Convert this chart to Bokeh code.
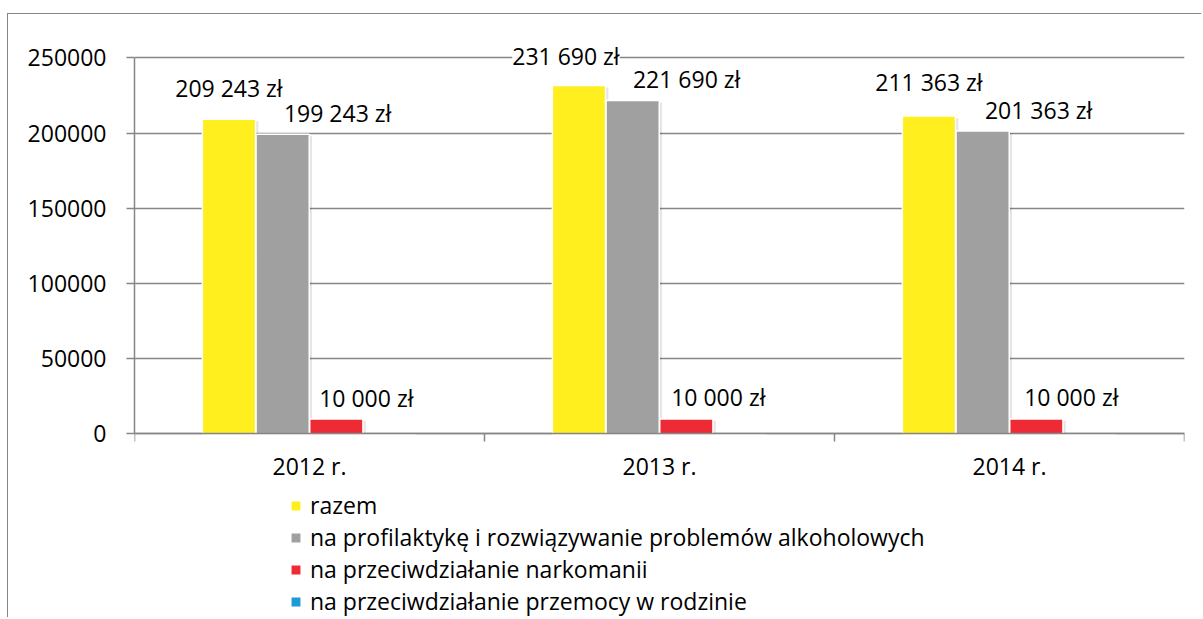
from bokeh.plotting import figure
from bokeh.models import (ColumnDataSource, LabelSet, Legend, LegendItem, FixedTicker,
                          BasicTickFormatter, Range1d)
from bokeh.core.properties import value
from bokeh.embed import file_html
from bokeh.resources import INLINE

# ---------------- data ----------------
categories = ["2012 r.", "2013 r.", "2014 r."]
series_names = [
    "razem",
    "na profilaktykę i rozwiązywanie problemów alkoholowych",
    "na przeciwdziałanie narkomanii",
    "na przeciwdziałanie przemocy w rodzinie",
]
razem = [209243, 231690, 211363]
alkohol = [199243, 221690, 201363]
narkomania = [10000, 10000, 10000]
przemoc = [0, 0, 0]
y_ticks = [0, 50000, 100000, 150000, 200000, 250000]

# ---------------- style ----------------
colors = ["#FFEF1F", "#A0A0A0", "#EE2B34", "#1E9AD6"]
FONT = "Open Sans"
GRID = "#868686"
label_dx = [[0, -13, 0], [55, 54, 56], [30, 32, 35]]
label_dy = [[31, 29, 34], [21, 22, 21], [21, 22, 22]]
pitch = 0.1534
bar_w = 0.152
# view range: room above the axis for labels, room below for category labels + legend
Y_VIEW = (-122700, 261600)

all_series = [razem, alkohol, narkomania, przemoc]

p = figure(width=1194, height=604, output_backend="svg", toolbar_location=None,
           x_range=Range1d(0, len(categories)), y_range=Range1d(*Y_VIEW),
           min_border_left=126, min_border_right=18, min_border_top=26,
           min_border_bottom=0)
p.outline_line_color = None
p.background_fill_color = "white"
p.border_fill_color = "white"
p.styles = {"margin-left": "7px", "margin-top": "13px",
            "border-left": "1.5px solid #868686", "border-top": "1.5px solid #868686"}

legend_items = []
for k, (vals, col, name) in enumerate(zip(all_series, colors, series_names)):
    off = (k - 1.5) * pitch
    xs = [i + 0.5 + off for i in range(len(categories))]
    if k < 3:
        # soft shadow
        p.vbar(x=[x + 0.008 for x in xs], top=[max(v - 1300, 0) for v in vals],
               width=bar_w, fill_color="black", fill_alpha=0.10, line_color=None)
    r = p.vbar(x=xs, top=vals, width=bar_w, fill_color=col, line_color="white",
               line_width=1.5)
    legend_items.append(LegendItem(label=name, renderers=[r]))
    if k < 3:
        src = ColumnDataSource(dict(
            x=xs, y=vals,
            text=[f"{v:,}".replace(",", " ") + " zł" for v in vals],
            dx=label_dx[k], dy=label_dy[k]))
        p.add_layout(LabelSet(x="x", y="y", text="text", source=src,
                              x_offset="dx", y_offset="dy",
                              text_align="center", text_baseline="middle",
                              text_font=value(FONT), text_font_size="23px",
                              text_color="black",
                              background_fill_color="white"))

# x axis sits at value 0 inside the frame
p.xaxis.fixed_location = 0
p.xaxis.ticker = FixedTicker(ticks=[i + 0.5 for i in range(len(categories))],
                             minor_ticks=list(range(len(categories) + 1)))
p.xaxis.major_label_overrides = {i + 0.5: c for i, c in enumerate(categories)}
p.xaxis.major_tick_line_color = None
p.xaxis.major_tick_out = 0
p.xaxis.major_tick_in = 0
p.xaxis.minor_tick_line_color = GRID
p.xaxis.minor_tick_line_width = 1.5
p.xaxis.minor_tick_out = 8
p.xaxis.minor_tick_in = 0
p.xaxis.axis_line_color = GRID
p.xaxis.axis_line_width = 1.5
p.xaxis.major_label_standoff = 8
p.xaxis.major_label_text_font = FONT
p.xaxis.major_label_text_font_size = "23px"
p.xaxis.major_label_text_color = "black"

p.yaxis.ticker = FixedTicker(ticks=y_ticks)
p.yaxis.bounds = (y_ticks[0], y_ticks[-1])
p.yaxis.formatter = BasicTickFormatter(use_scientific=False)
p.yaxis.axis_line_color = GRID
p.yaxis.axis_line_width = 1.5
p.yaxis.major_tick_line_color = GRID
p.yaxis.major_tick_line_width = 1.5
p.yaxis.major_tick_out = 8
p.yaxis.major_tick_in = 0
p.yaxis.minor_tick_line_color = None
p.yaxis.major_label_standoff = 20
p.yaxis.major_label_text_font = FONT
p.yaxis.major_label_text_font_size = "23px"
p.yaxis.major_label_text_color = "black"

p.xgrid.grid_line_color = None
p.ygrid.ticker = FixedTicker(ticks=y_ticks)
p.ygrid.grid_line_color = GRID
p.ygrid.grid_line_width = 1.5

legend = Legend(items=legend_items, location=(155, 1), orientation="vertical",
                glyph_width=13, glyph_height=13, label_standoff=8, spacing=0,
                padding=0, margin=0, border_line_color=None,
                background_fill_alpha=0, label_text_font=FONT,
                label_text_font_size="23px", label_text_color="black")
p.add_layout(legend)

open("out.html", "w").write(file_html(p, INLINE))
